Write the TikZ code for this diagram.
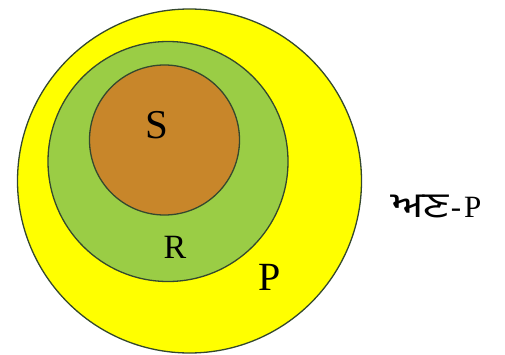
\documentclass[tikz,border=0pt]{standalone}
\usepackage{graphicx}
\usepackage{fontspec}
\setmainfont{Liberation Serif}
\newfontfamily\gurfont[Script=Gurmukhi]{Hind Jalandhar}
\newfontfamily\latinserif{Liberation Serif}
\definecolor{ringline}{HTML}{34482E}
\definecolor{pyellow}{HTML}{FFFF00}
\definecolor{rgreen}{HTML}{9ACD45}
\definecolor{sbrown}{HTML}{C8862A}
\begin{document}
\begin{tikzpicture}[x=1pt,y=1pt,
  setcirc/.style={circle,draw=ringline,line width=1.3pt,inner sep=0pt},
  lbl/.style={inner sep=0pt,text=black}]
\useasboundingbox (0,0) rectangle (505,354);
\node[setcirc,fill=pyellow,minimum size=344pt] (P) at (189.5,173) {};
\node[setcirc,fill=rgreen,minimum size=240pt] (R) at (168,192.5) {};
\node[setcirc,fill=sbrown,minimum size=150pt] (S) at (164.5,214) {};
\node[lbl,font=\fontsize{41}{43}\selectfont] (Slbl) at (157,229) {S};
\node[lbl,font=\fontsize{34}{36}\selectfont] (Rlbl) at (175,107) {R};
\node[lbl,font=\fontsize{40}{42}\selectfont] (Plbl) at (270,77) {P};
\node[lbl,anchor=base west] (notP) at (391,137) {\scalebox{1.3}[1]{\fontsize{35}{37}\gurfont ਅਣ}\hspace{2pt}{\fontsize{31}{33}\latinserif -\hspace{3pt}P}};
\end{tikzpicture}
\end{document}
